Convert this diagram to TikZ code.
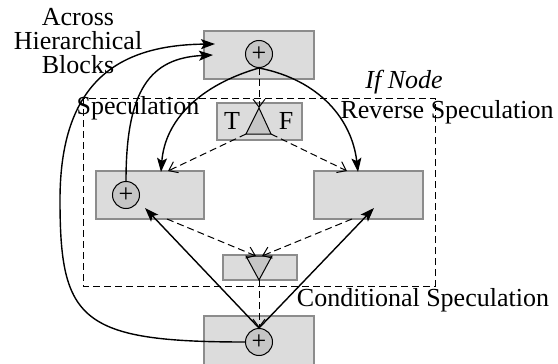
\documentclass[tikz,border=0pt]{standalone}
\usepackage{fontspec}
\setmainfont{Liberation Serif}
\usetikzlibrary{arrows.meta}

\begin{document}
\begin{tikzpicture}[x=0.5pt,y=-0.5pt,font=\fontsize{13}{12}\selectfont]
\definecolor{blockFill}{HTML}{DCDCDC}
\definecolor{blockEdge}{HTML}{8C8C8C}
\definecolor{opFill}{HTML}{C6C6C6}
\tikzset{
  blockbox/.style={draw=blockEdge,fill=blockFill,line width=0.6pt,inner sep=0pt,
    minimum width=55pt,minimum height=24pt},
  sumop/.style={circle,draw,fill=opFill,line width=0.5pt,inner sep=0pt,minimum size=13.5pt,
    font=\fontsize{13}{13}\selectfont},
  specarrow/.style={line width=0.7pt,-{Stealth[length=7pt,width=5pt,inset=1.5pt]}},
  ctrlarrow/.style={line width=0.5pt,dash pattern=on 3.5pt off 2pt,-{Straight Barb[length=4pt,width=6pt]}},
}
\useasboundingbox (0,0) rectangle (558,364);
\clip (0,0) rectangle (558,364);
% blocks
\node[blockbox] (topblk) at (259,55) {};
\node[blockbox,minimum width=54pt] (leftblk) at (150,195) {};
\node[blockbox,minimum width=54.5pt] (rightblk) at (368.5,195) {};
\node[blockbox,minimum height=27pt] (botblk) at (259,343) {};
\node[blockbox,minimum width=42.5pt,minimum height=18.5pt] (ifblk) at (259.5,121.5) {};
\node[blockbox,minimum width=37pt,minimum height=12.5pt] (joinblk) at (260,267.5) {};
% if node region
\draw[line width=0.5pt,dash pattern=on 3.5pt off 2pt] (83,98) rectangle (435,286);
\node[font=\fontsize{13}{12}\selectfont\itshape] (iflab) at (404,82) {If Node};
% sums
\node[sumop] (topsum) at (259,54) {+};
\node[sumop] (leftsum) at (126,195) {+};
\node[sumop] (botsum) at (259,342) {+};
% branch and join
\coordinate (brTop) at (259,108);
\coordinate (brL) at (246,134);
\coordinate (brR) at (271,134);
\filldraw[fill=opFill,line width=0.5pt] (brTop) -- (brL) -- (brR) -- cycle;
\coordinate (jnL) at (246,256);
\coordinate (jnR) at (272,256);
\coordinate (jnBot) at (259,280);
\filldraw[fill=opFill,line width=0.5pt] (jnL) -- (jnR) -- (jnBot) -- cycle;
\node (tlab) at (232,121) {T};
\node (flab) at (286,121) {F};
% arrow ends
\coordinate (leftTop) at (161,172);
\coordinate (rightTop) at (358,172);
\coordinate (leftIn) at (145,208);
\coordinate (rightIn) at (374,208);
\coordinate (topInA) at (215,44);
\coordinate (topInB) at (213,55);
% control flow
\draw[ctrlarrow] (topsum.south) -- (brTop);
\draw[ctrlarrow] (brL) -- (168,171);
\draw[ctrlarrow] (brR) -- (347,171);
\draw[ctrlarrow] (167,219) -- (256,256);
\draw[ctrlarrow] (352,219) -- (262,256);
\draw[ctrlarrow] (jnBot) -- (botsum.north);
% speculation
\draw[specarrow] (topsum.south) .. controls (200,85) and (165,120) .. (leftTop);
\draw[specarrow] (topsum.south) .. controls (320,80) and (352,120) .. (rightTop);
\draw[specarrow] (botsum.north) -- (leftIn);
\draw[specarrow] (botsum.north) -- (rightIn);
\draw[specarrow] (leftsum.north) .. controls (126,90) and (150,58) .. (topInB);
\draw[specarrow] (botsum.west) .. controls (80,342) and (60,320) .. (60,200)
  .. controls (60,80) and (120,45) .. (topInA);
% labels
\node[align=center] (acrosslab) at (78,41) {Across\\Hierarchical\\Blocks};
\node (speclab) at (138,108) {Speculation};
\node (revlab) at (447,112) {Reverse Speculation};
\node (condlab) at (423,300) {Conditional Speculation};
\end{tikzpicture}
\end{document}
